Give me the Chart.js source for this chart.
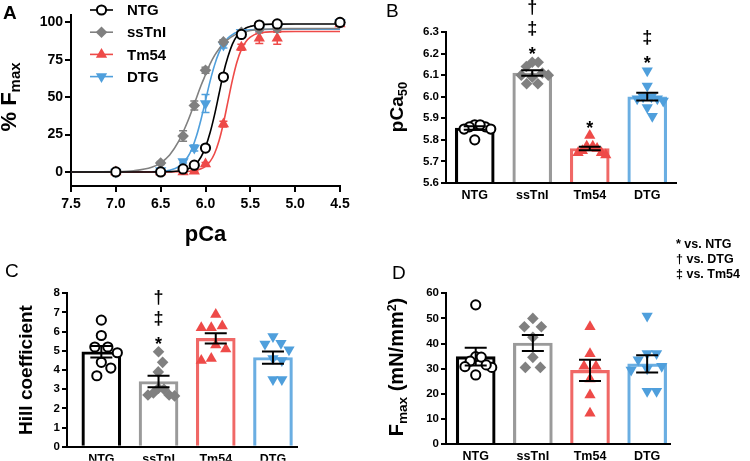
<!DOCTYPE html>
<html>
<head>
<meta charset="utf-8">
<script src="https://cdn.jsdelivr.net/npm/chart.js@4.4.1/dist/chart.umd.min.js"></script>
<style>
  body { margin: 0; background: #fff; }
  #wrap { position: relative; width: 750px; height: 461px; overflow: hidden; font-family: "Liberation Sans", Arial, sans-serif; }
  canvas { position: absolute; left: 0; top: 0; }
  .t { position: absolute; white-space: nowrap; line-height: 1; font-weight: bold; color: #000; }
  .rot { transform: translate(-50%, -50%) rotate(-90deg); }
  .ctr { transform: translateX(-50%); }
  .sub { font-size: 0.68em; position: relative; top: 0.3em; line-height: 0; }
  .sup { font-size: 0.62em; position: relative; top: -0.55em; line-height: 0; }
  .let { position: absolute; line-height: 1; font-size: 19px; color: #000; }
</style>
</head>
<body>
<div id="wrap">
  <canvas id="cA" width="750" height="461"></canvas>
  <canvas id="cB" width="750" height="461"></canvas>
  <canvas id="cC" width="750" height="461"></canvas>
  <canvas id="cD" width="750" height="461"></canvas>

  <div class="let" style="left:3px;top:2.5px;font-weight:bold">A</div>
  <div class="let" style="left:386px;top:1px">B</div>
  <div class="let" style="left:5px;top:260.5px">C</div>
  <div class="let" style="left:392px;top:262.5px">D</div>

  <div class="t rot" style="left:9.2px;top:97px;font-size:22px">% F<span class="sub">max</span></div>
  <div class="t ctr" style="left:205.5px;top:223px;font-size:22px">pCa</div>
  <div class="t rot" style="left:396.4px;top:107px;font-size:19px">pCa<span class="sub">50</span></div>
  <div class="t rot" style="left:25.4px;top:370px;font-size:19px">Hill coefficient</div>
  <div class="t rot" style="left:396px;top:367px;font-size:20px">F<span class="sub">max</span> (mN/mm<span class="sup">2</span>)</div>

  <div class="t" style="left:676px;top:238px;font-size:12.5px">* vs. NTG</div>
  <div class="t" style="left:676px;top:253px;font-size:12.5px">† vs. DTG</div>
  <div class="t" style="left:676px;top:268px;font-size:12.5px">‡ vs. Tm54</div>
</div>

<script>
const groups = ["NTG", "ssTnI", "Tm54", "DTG"];

// Panel A: force-pCa relationship (mean, SEM)
const pCa = [7.0, 6.5, 6.25, 6.125, 6.0, 5.8, 5.6, 5.4, 5.2, 4.5];
const forceNTG   = [0, 0, 2, 4.5, 16, 63.5, 92, 98.3, 99, 100];
const forceSsTnI = [0, 6, 24, 44.5, 68, 87, 93.5, 95.5, 96, 100];
const forceTm54  = [0, 0, 0, 0.5, 5.3, 32, 83.5, 89.5, 89.5, 99];
const forceDTG   = [0, 1, 7, 16, 45.8, 85, 93.5, 95, 96, 100];
const semNTG   = [0, 0, 0.5, 1, 1.5, 2, 1, 0.5, 0.5, 0];
const semSsTnI = [0, 1, 3.5, 3, 2, 1.5, 1, 1, 1, 0];
const semTm54  = [0, 0, 0, 0.5, 1, 2, 2, 3.5, 4, 0.5];
const semDTG   = [0, 0.5, 1, 2, 6, 2, 1, 1, 1, 0];

// fitted curves
const curvePCa = [7.5, 7.0, 6.8, 6.6, 6.5, 6.4, 6.3, 6.2, 6.15, 6.1, 6.05, 6.0, 5.95, 5.9, 5.85, 5.8, 5.75, 5.7, 5.65, 5.6, 5.55, 5.5, 5.4, 5.2, 5.0, 4.5];
const fitNTG   = [0, 0, 0, 0, 0.1, 0.2, 0.6, 2.0, 3.4, 5.9, 10, 16.6, 26, 38, 52, 66, 77, 85.5, 90.9, 94, 96.3, 97.4, 98.5, 98.9, 99, 99];
const fitSsTnI = [0, 0.2, 0.8, 3.1, 6.1, 11.4, 20.4, 33.6, 41.4, 49.7, 57.8, 65, 72.1, 77.8, 82.3, 86, 88.6, 90.7, 92.2, 93.2, 94.0, 94.6, 95.3, 95.8, 95.9, 96];
const fitTm54  = [0, 0, 0, 0, 0, 0, 0.1, 0.3, 0.6, 1.1, 2.1, 3.8, 6.9, 12.2, 20.7, 32.6, 47, 61.4, 73.4, 81.8, 87.1, 90.2, 92.9, 93.9, 94, 94];
const fitDTG   = [0, 0, 0, 0.1, 0.4, 1.2, 3.6, 9.8, 15.7, 24.2, 35.1, 47.7, 60.4, 71.3, 79.8, 85.6, 89.5, 91.9, 93.4, 94.2, 94.8, 95.1, 95.3, 95.5, 95.5, 95.5];
const xTicksA = [7.5, 7.0, 6.5, 6.0, 5.5, 5.0, 4.5];
const yTicksA = [0, 25, 50, 75, 100];

// Panel B: pCa50
const pca50NTG   = [5.87, 5.86, 5.85, 5.86, 5.85, 5.87, 5.80];
const pca50SsTnI = [6.16, 6.14, 6.16, 6.10, 6.11, 6.10, 6.06, 6.06, 6.09];
const pca50Tm54  = [5.82, 5.77, 5.76, 5.75, 5.74, 5.74, 5.73, 5.77];
const pca50DTG   = [6.12, 6.05, 6.00, 5.99, 6.00, 5.99, 5.98, 5.91, 5.95];
const pca50Mean = [5.855, 6.11, 5.76, 6.0];
const pca50Sem  = [0.008, 0.013, 0.008, 0.018];
const yTicksB = [5.6, 5.7, 5.8, 5.9, 6.0, 6.1, 6.2, 6.3];
const sigB = [[], ["*", "‡", "†"], ["*"], ["*", "‡"]];

// Panel C: Hill coefficient
const hillNTG   = [6.6, 5.8, 5.2, 5.2, 4.9, 4.4, 4.1, 3.7];
const hillSsTnI = [4.95, 4.4, 3.9, 3.05, 3.0, 2.7, 2.65, 2.7, 2.8];
const hillTm54  = [6.9, 6.2, 6.3, 6.2, 5.1, 5.3, 4.6, 4.5];
const hillDTG   = [5.75, 5.4, 5.35, 5.05, 4.6, 4.5, 3.5, 3.5];
const hillMean = [4.95, 3.4, 5.65, 4.65];
const hillSem  = [0.3, 0.3, 0.27, 0.32];
const yTicksC = [0, 1, 2, 3, 4, 5, 6, 7, 8];
const sigC = [[], ["*", "‡", "†"], [], []];

// Panel D: Fmax
const fmaxNTG   = [55.4, 34.8, 34.6, 33, 30.5, 31.5, 30.8, 27.5];
const fmaxSsTnI = [46.7, 50, 46.7, 42.5, 34.5, 30.5, 30.5];
const fmaxTm54  = [46.7, 35.9, 31, 31, 25.9, 19.5, 12.2];
const fmaxDTG   = [51, 36, 36, 33.5, 31, 30, 29.5, 21, 21];
const fmaxMean = [34.8, 40.2, 29.3, 31.9];
const fmaxSem  = [3.5, 3.2, 4.2, 3.4];
const yTicksD = [0, 10, 20, 30, 40, 50, 60];
const sigD = [[], [], [], []];

const styles = [
  { color: "#000000", bar: "#000000", shape: "circle",   fill: "#ffffff", radius: 4.6, rot: 0,   bw: 2 },
  { color: "#808080", bar: "#9a9a9a", shape: "rectRot",  fill: "#808080", radius: 5.8, rot: 0,   bw: 0 },
  { color: "#ee4a48", bar: "#f06866", shape: "triangle", fill: "#ee4a48", radius: 6.5, rot: 0,   bw: 0 },
  { color: "#4f9fdc", bar: "#6aaee2", shape: "triangle", fill: "#4f9fdc", radius: 6.5, rot: 180, bw: 0 }
];

const FONT = "Liberation Sans";
Chart.defaults.font.family = FONT;
Chart.defaults.color = "#000";

function marker(ctx, s, x, y) {
  const r = s.radius;
  ctx.save();
  ctx.beginPath();
  if (s.shape === "circle") {
    ctx.arc(x, y, r, 0, Math.PI * 2);
  } else if (s.shape === "rectRot") {
    ctx.moveTo(x - r, y); ctx.lineTo(x, y - r); ctx.lineTo(x + r, y); ctx.lineTo(x, y + r); ctx.closePath();
  } else {
    const k = s.rot ? -1 : 1;
    ctx.moveTo(x, y - k * r); ctx.lineTo(x + r * 0.866, y + k * r * 0.5); ctx.lineTo(x - r * 0.866, y + k * r * 0.5); ctx.closePath();
  }
  ctx.fillStyle = s.fill;
  ctx.fill();
  if (s.bw) { ctx.lineWidth = s.bw; ctx.strokeStyle = s.color; ctx.stroke(); }
  ctx.restore();
}

function pointOpts(s) {
  return {
    pointStyle: s.shape, rotation: s.rot, pointRadius: s.radius,
    pointBackgroundColor: s.fill, pointBorderColor: s.color, pointBorderWidth: s.bw
  };
}

// simple beeswarm: horizontal offsets (px), squeezed to stay inside the bar
function swarm(vals, pxY, ax, ay, maxSpread) {
  const order = vals.map((v, i) => i).sort((a, b) => vals[b] - vals[a]);
  const placed = [], offs = [];
  for (const i of order) {
    const y = vals[i] * pxY;
    for (let k = 0; k < 400; k++) {
      const x = k === 0 ? 0 : (k % 2 ? 1 : -1) * Math.ceil(k / 2) * 0.5;
      if (placed.every(p => ((p.x - x) / ax) ** 2 + ((p.y - y) / ay) ** 2 >= 1)) {
        placed.push({ x, y }); offs[i] = x; break;
      }
    }
  }
  const widest = Math.max(...offs.map(Math.abs));
  const k = widest > maxSpread ? maxSpread / widest : 1;
  return offs.map(o => o * k);
}

function axisY(min, max, ticks, width, fontSize, fmt, tickLen) {
  return {
    type: "linear", min, max,
    afterFit: s => { s.width = width; },
    afterBuildTicks: s => { s.ticks = ticks.map(v => ({ value: v })); },
    ticks: { autoSkip: false, padding: 2, font: { size: fontSize, weight: "bold" }, color: "#000", callback: fmt },
    border: { display: true, color: "#000", width: 2 },
    grid: { drawOnChartArea: false, drawTicks: true, tickLength: tickLen, color: "#000", lineWidth: 2 }
  };
}

// ---------- Panel A ----------
const areaA = { left: 71, right: 340, top: 15, bottom: 186 };
const forceA = [forceNTG, forceSsTnI, forceTm54, forceDTG];
const semA = [semNTG, semSsTnI, semTm54, semDTG];
const fitA = [fitNTG, fitSsTnI, fitTm54, fitDTG];

const dsA = [];
fitA.forEach((f, g) => {
  dsA.push({
    type: "line", data: curvePCa.map((x, i) => ({ x, y: f[i] })),
    borderColor: styles[g].color, borderWidth: 1.6, pointRadius: 0,
    cubicInterpolationMode: "monotone", fill: false, order: 3, clip: false
  });
});
forceA.forEach((f, g) => {
  dsA.push(Object.assign({
    type: "scatter", data: pCa.map((x, i) => ({ x, y: f[i] })), sem: semA[g], group: g,
    showLine: false, order: 1, clip: false
  }, pointOpts(styles[g])));
});

const errorBarsA = {
  id: "errorBarsA",
  beforeDatasetsDraw(chart) {
    const { ctx, scales: { x, y } } = chart;
    chart.data.datasets.forEach(ds => {
      if (!ds.sem) return;
      const s = styles[ds.group];
      ctx.save();
      ctx.strokeStyle = s.color; ctx.lineWidth = 1.5;
      ds.data.forEach((p, i) => {
        const e = ds.sem[i];
        if (!e) return;
        const px = x.getPixelForValue(p.x);
        const y1 = y.getPixelForValue(p.y + e), y2 = y.getPixelForValue(p.y - e);
        ctx.beginPath();
        ctx.moveTo(px, y1); ctx.lineTo(px, y2);
        ctx.moveTo(px - 4, y1); ctx.lineTo(px + 4, y1);
        ctx.moveTo(px - 4, y2); ctx.lineTo(px + 4, y2);
        ctx.stroke();
      });
      ctx.restore();
    });
  }
};

const legendA = {
  id: "legendA",
  afterDraw(chart) {
    const ctx = chart.ctx;
    groups.forEach((name, g) => {
      const y = 10 + g * 22.2;
      ctx.save();
      ctx.strokeStyle = styles[g].color; ctx.lineWidth = 1.6;
      ctx.beginPath(); ctx.moveTo(90, y); ctx.lineTo(113, y); ctx.stroke();
      ctx.restore();
      marker(ctx, styles[g], 101.5, y);
      ctx.save();
      ctx.font = "bold 15px " + FONT; ctx.fillStyle = "#000";
      ctx.textBaseline = "middle"; ctx.textAlign = "left";
      ctx.fillText(name, 127, y + 1);
      ctx.restore();
    });
  }
};

new Chart(document.getElementById("cA"), {
  type: "line",
  data: { datasets: dsA },
  options: {
    responsive: false, animation: false,
    layout: { padding: { left: areaA.left - 60, top: areaA.top, right: 750 - areaA.right, bottom: 461 - areaA.bottom - 30 } },
    plugins: { legend: { display: false }, tooltip: { enabled: false } },
    scales: {
      x: {
        type: "linear", reverse: true, min: 4.5, max: 7.5,
        afterFit: s => { s.height = 30; },
        afterBuildTicks: s => { s.ticks = xTicksA.map(v => ({ value: v })); },
        ticks: { autoSkip: false, maxRotation: 0, padding: 4, font: { size: 14, weight: "bold" }, color: "#000", callback: v => v.toFixed(1) },
        border: { display: true, color: "#000", width: 2 },
        grid: { drawOnChartArea: false, drawTicks: true, tickLength: 6, color: "#000", lineWidth: 2 }
      },
      y: axisY(-9.4, 105, yTicksA, 60, 14, v => String(v), 6)
    }
  },
  plugins: [errorBarsA, legendA]
});

// ---------- Bar panels ----------
function barPanel(id, cfg) {
  const { area, yMin, yMax, yTicks, xMin, xMax, means, sems, points, sig, fmt, yW, xH } = cfg;
  const pxY = (area.bottom - area.top) / (yMax - yMin);
  const pxX = (area.right - area.left) / (xMax - xMin);
  const datasets = [{
    type: "bar", data: means.map((m, i) => ({ x: i, y: m })), base: yMin,
    barThickness: 39, backgroundColor: "rgba(255,255,255,0)",
    borderColor: styles.map(s => s.bar), borderWidth: 2.5, borderSkipped: "bottom", order: 3
  }];
  points.forEach((vals, g) => {
    const offs = swarm(vals, pxY, 10, 15, 16);
    datasets.push(Object.assign({
      type: "scatter", data: vals.map((v, k) => ({ x: g + offs[k] / pxX, y: v })),
      showLine: false, order: 1, clip: false
    }, pointOpts(styles[g])));
  });

  const extras = {
    id: "extras" + id,
    afterDatasetsDraw(chart) {
      const { ctx, scales: { x, y } } = chart;
      ctx.save();
      ctx.strokeStyle = "#000"; ctx.lineWidth = 2;
      means.forEach((m, i) => {
        const px = x.getPixelForValue(i);
        const y1 = y.getPixelForValue(m + sems[i]), y2 = y.getPixelForValue(m - sems[i]);
        ctx.beginPath();
        ctx.moveTo(px, y1); ctx.lineTo(px, y2);
        ctx.moveTo(px - 11, y1); ctx.lineTo(px + 11, y1);
        ctx.moveTo(px - 11, y2); ctx.lineTo(px + 11, y2);
        ctx.stroke();
      });
      ctx.fillStyle = "#000"; ctx.textAlign = "center"; ctx.textBaseline = "alphabetic";
      ctx.font = "bold 18px " + FONT;
      sig.forEach((marks, g) => {
        if (!marks.length) return;
        const top = y.getPixelForValue(Math.max(...points[g]));
        marks.forEach((m, k) => {
          const cy = top - 12 - k * 21;
          ctx.fillText(m, x.getPixelForValue(g), cy + (m === "*" ? 10 : 5));
        });
      });
      ctx.restore();
    }
  };

  new Chart(document.getElementById(id), {
    type: "bar",
    data: { datasets },
    options: {
      responsive: false, animation: false,
      layout: { padding: { left: area.left - yW, top: area.top, right: 750 - area.right, bottom: Math.max(0, 461 - area.bottom - xH) } },
      plugins: { legend: { display: false }, tooltip: { enabled: false } },
      scales: {
        x: {
          type: "linear", min: xMin, max: xMax, offset: false,
          afterFit: s => { s.height = xH; },
          afterBuildTicks: s => { s.ticks = groups.map((g, i) => ({ value: i })); },
          ticks: { autoSkip: false, maxRotation: 0, padding: 5, font: { size: 12.5, weight: "bold" }, color: "#000", callback: v => groups[v] },
          border: { display: true, color: "#000", width: 2 },
          grid: { offset: false, drawOnChartArea: false, drawTicks: false, color: "#000" }
        },
        y: axisY(yMin, yMax, yTicks, yW, 11.5, fmt, 5)
      }
    },
    plugins: [extras]
  });
}

barPanel("cB", {
  area: { left: 446, right: 676, top: 32, bottom: 183 },
  yMin: 5.6, yMax: 6.3, yTicks: yTicksB, xMin: -0.5, xMax: 3.5,
  means: pca50Mean, sems: pca50Sem, points: [pca50NTG, pca50SsTnI, pca50Tm54, pca50DTG],
  sig: sigB, fmt: v => v.toFixed(1), yW: 40, xH: 25
});

barPanel("cC", {
  area: { left: 67, right: 297, top: 293.3, bottom: 446.7 },
  yMin: 0, yMax: 8, yTicks: yTicksC, xMin: -0.6, xMax: 3.42,
  means: hillMean, sems: hillSem, points: [hillNTG, hillSsTnI, hillTm54, hillDTG],
  sig: sigC, fmt: v => String(v), yW: 30, xH: 14
});

barPanel("cD", {
  area: { left: 446, right: 670, top: 293.3, bottom: 444 },
  yMin: 0, yMax: 60, yTicks: yTicksD, xMin: -0.52, xMax: 3.4,
  means: fmaxMean, sems: fmaxSem, points: [fmaxNTG, fmaxSsTnI, fmaxTm54, fmaxDTG],
  sig: sigD, fmt: v => String(v), yW: 40, xH: 17
});
</script>
</body>
</html>
